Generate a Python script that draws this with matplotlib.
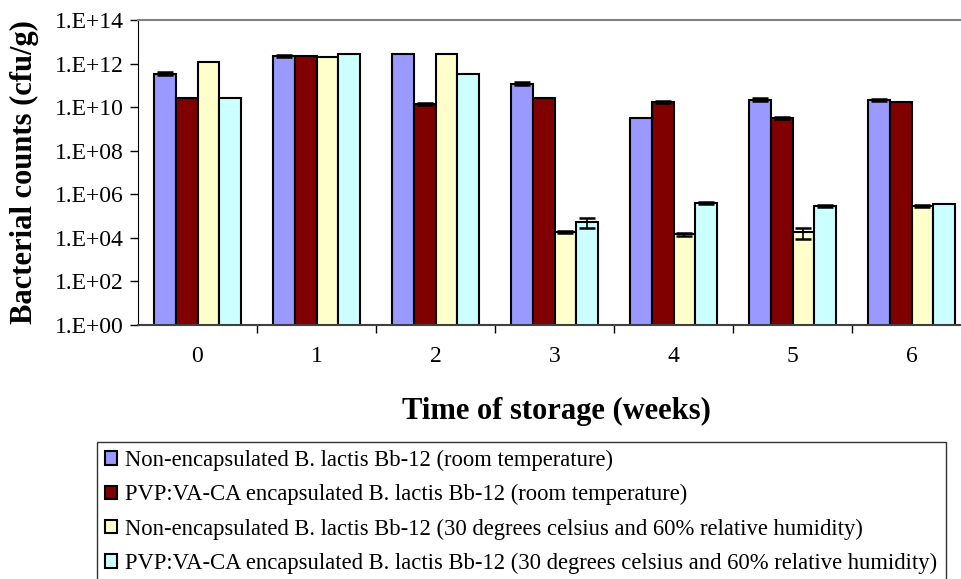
import matplotlib
matplotlib.use("Agg")
import matplotlib.pyplot as plt
import numpy as np
from matplotlib.ticker import FixedLocator, NullFormatter

weeks = ["0", "1", "2", "3", "4", "5", "6"]
series_names = [
    "Non-encapsulated B. lactis Bb-12 (room temperature)",
    "PVP:VA-CA encapsulated B. lactis Bb-12 (room temperature)",
    "Non-encapsulated B. lactis Bb-12 (30 degrees celsius and 60% relative humidity)",
    "PVP:VA-CA encapsulated B. lactis Bb-12 (30 degrees celsius and 60% relative humidity)",
]
nonenc_rt = [3.5e11, 2.2e12, 2.8e12, 1.2e11, 3.2e9, 2.2e10, 2.1e10]
enc_rt = [2.6e10, 2.2e12, 1.4e10, 2.6e10, 1.7e10, 3.2e9, 1.7e10]
nonenc_hum = [1.2e12, 2.1e12, 2.8e12, 1.9e4, 1.5e4, 1.9e4, 2.9e5]
enc_hum = [2.6e10, 2.8e12, 3.4e11, 5.5e4, 3.8e5, 2.9e5, 3.7e5]

err_nonenc_rt = [0.6e11, 0.3e12, 0.0, 0.2e11, 0.0, 0.3e10, 0.2e10]
err_enc_rt = [0.0, 0.0, 0.15e10, 0.0, 0.15e10, 0.3e9, 0.0]
err_nonenc_hum = [0.0, 0.0, 0.0, 0.25e4, 0.25e4, 1.0e4, 0.3e5]
err_enc_hum = [0.0, 0.0, 0.0, 2.7e4, 0.4e5, 0.3e5, 0.0]

ytick_labels = ["1.E+00", "1.E+02", "1.E+04", "1.E+06", "1.E+08", "1.E+10", "1.E+12", "1.E+14"]

colors = ["#9999FF", "#800000", "#FFFFCC", "#CCFFFF"]

plt.rcParams['font.family'] = ['Liberation Serif', 'DejaVu Serif']

fig = plt.figure(figsize=(9.61, 5.79), dpi=100)
W, H = 961, 579
left, right, top, bottom = 138, 971, 20, 325
ax = fig.add_axes([left / W, 1 - bottom / H, (right - left) / W, (bottom - top) / H])

values = [nonenc_rt, enc_rt, nonenc_hum, enc_hum]
errors = [err_nonenc_rt, err_enc_rt, err_nonenc_hum, err_enc_hum]
x = np.arange(len(weeks))
bw = 0.183
handles = []
for i, (vals, errs, c, name) in enumerate(zip(values, errors, colors, series_names)):
    pos = x + (i - 1.5) * bw
    b = ax.bar(pos, vals, width=bw, color=c, edgecolor="black", linewidth=1.5,
               label=name, zorder=2)
    handles.append(b)
    errs = np.array(errs)
    mask = errs > 0
    ax.errorbar(pos[mask], np.array(vals)[mask], yerr=errs[mask], fmt="none",
                ecolor="black", elinewidth=1.2, capsize=5.5, capthick=1.8, zorder=3)

ax.set_yscale("log")
ax.set_ylim(1, 1e14)
ax.set_xlim(-0.5, len(weeks) - 0.5)
yt = [10.0 ** k for k in range(0, 15, 2)]
ax.yaxis.set_major_locator(FixedLocator(yt))
ax.set_yticklabels(ytick_labels)
ax.yaxis.set_minor_locator(FixedLocator([]))
ax.yaxis.set_minor_formatter(NullFormatter())

ax.set_xticks(np.arange(0.5, len(weeks) - 0.5, 1.0))
ax.set_xticklabels([])
ax.set_xticks(x, minor=True)
ax.set_xticklabels(weeks, minor=True)
ax.tick_params(axis="x", which="major", length=6, width=1, color="black", direction="out")
ax.tick_params(axis="x", which="minor", length=0, labelsize=17, pad=15)
ax.tick_params(axis="y", which="major", length=6, width=1, direction="out", labelsize=17, pad=4)

ax.spines["right"].set_visible(False)
ax.spines["top"].set_color("#808080")
ax.spines["top"].set_linewidth(1.5)
ax.spines["left"].set_color("black")
ax.spines["bottom"].set_color("#404040")
ax.spines["bottom"].set_linewidth(1.5)

ax.set_ylabel("Bacterial counts (cfu/g)", fontsize=22, fontweight="bold")
ax.yaxis.set_label_coords(-0.119, 0.5)
ax.set_xlabel("Time of storage (weeks)", fontsize=22, fontweight="bold")
ax.xaxis.set_label_coords((556 - left) / (right - left), -0.235)

leg = fig.legend(handles=handles, labels=series_names, loc="upper left",
                 bbox_to_anchor=(97 / W, 1 - 442 / H - 0.01, (946 - 97) / W, 0.01),
                 mode="expand", borderaxespad=0,
                 fontsize=16.25, frameon=True, fancybox=False, edgecolor="black",
                 handlelength=0.55, handleheight=0.55, handletextpad=0.35,
                 labelspacing=0.58, borderpad=0.35)
leg.get_frame().set_linewidth(1)

fig.savefig("out.png", dpi=100)
